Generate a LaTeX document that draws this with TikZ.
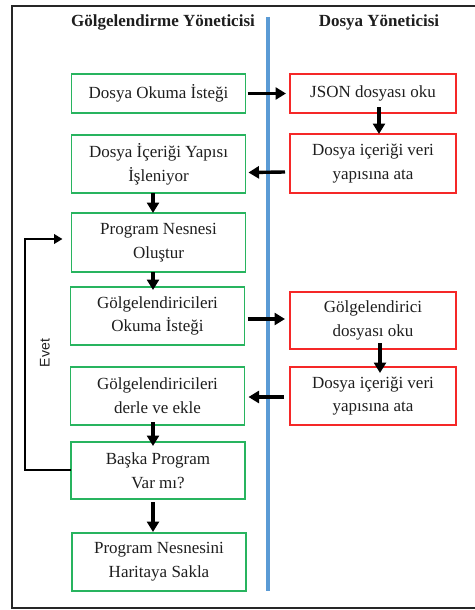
\documentclass[tikz,border=0pt]{standalone}
\usepackage{fontspec}
\setmainfont{Liberation Serif}
\newfontfamily\evetfont{Liberation Sans}
\usetikzlibrary{arrows.meta}
\definecolor{boxgreen}{RGB}{40,180,95}
\definecolor{boxred}{RGB}{245,40,40}
\definecolor{laneblue}{RGB}{91,155,213}
\definecolor{txt}{RGB}{30,30,30}
\begin{document}
\begin{tikzpicture}[x=1pt,y=-1pt,
  every node/.style={inner sep=0pt,outer sep=0pt},
  gbox/.style={draw=boxgreen,line width=1.4pt,minimum width=174pt,align=center,
    font=\fontsize{17}{23.7}\selectfont,text=txt},
  rbox/.style={draw=boxred,line width=1.4pt,minimum width=166pt,align=center,
    font=\fontsize{17}{23.7}\selectfont,text=txt},
  head/.style={font=\fontsize{17}{20}\selectfont\bfseries,text=txt},
  flow/.style={line width=3.4pt,-{Triangle[length=10.5pt,width=12pt]}},
  loop/.style={line width=2.4pt,-{Triangle[length=8.5pt,width=9.5pt]}}]
\useasboundingbox (0,0) rectangle (474,610);
% outer frame (its right edge lies past the page)
\draw[line width=2pt,black!85] (11.5,6) rectangle (490,607.5);
% lane divider
\draw[laneblue,line width=3.2pt] (268,17) -- (268,591);
% lane titles
\node[head] (h1) at (163,22) {Gölgelendirme Yöneticisi};
\node[head] (h2) at (379,22) {Dosya Yöneticisi};
% left lane
\node[gbox,minimum height=39pt] (g1) at (158.5,93.5) {Dosya Okuma İsteği};
\node[gbox,minimum height=58pt] (g2) at (158.5,164) {Dosya İçeriği Yapısı\\İşleniyor};
\node[gbox,minimum height=59pt] (g3) at (158.5,242.5) {Program Nesnesi\\Oluştur};
\node[gbox,minimum height=58pt] (g4) at (157.5,316) {Gölgelendiricileri\\Okuma İsteği};
\node[gbox,minimum height=58pt] (g5) at (157.5,396) {Gölgelendiricileri\\derle ve ekle};
\node[gbox,minimum height=57pt] (g6) at (158,470.5) {Başka Program\\Var mı?};
\node[gbox,minimum height=58pt] (g7) at (159,562) {Program Nesnesini\\Haritaya Sakla};
% right lane
\node[rbox,minimum height=39pt] (r1) at (373,93.5) {JSON dosyası oku};
\node[rbox,minimum height=59pt] (r2) at (373,163.5) {Dosya içeriği veri\\yapısına ata};
\node[rbox,minimum height=57pt] (r3) at (373,320.5) {Gölgelendirici\\dosyası oku};
\node[rbox,minimum height=58pt] (r4) at (373,396) {Dosya içeriği veri\\yapısına ata};
% connectors (yshift is measured upwards)
\draw[flow] ([xshift=2pt]g1.east) -- ([xshift=-4pt]r1.west);
\draw[flow] ([xshift=6pt,yshift=6pt]r1.south) -- ([xshift=6pt]r2.north);
\draw[flow] ([xshift=-5pt,yshift=-8.5pt]r2.west) -- ([xshift=3pt,yshift=-8.5pt]g2.east);
\draw[flow] ([xshift=-5.5pt]g2.south) -- ([xshift=-5.5pt]g3.north);
\draw[flow] ([xshift=-5.5pt]g3.south) -- ([xshift=-4.5pt,yshift=-3pt]g4.north);
\draw[flow] ([xshift=3pt,yshift=-3pt]g4.east) -- ([xshift=-5pt,yshift=1.5pt]r3.west);
\draw[flow] ([xshift=7pt,yshift=6pt]r3.south) -- ([xshift=7pt,yshift=-6pt]r4.north);
\draw[flow] ([xshift=-6pt,yshift=-1pt]r4.west) -- ([xshift=4pt,yshift=-1pt]g5.east);
\draw[flow] ([xshift=-4.5pt,yshift=3pt]g5.south) -- ([xshift=-5pt,yshift=-4pt]g6.north);
\draw[flow] ([xshift=-5pt,yshift=-3pt]g6.south) -- ([xshift=-6pt,yshift=1pt]g7.north);
% repeat loop
\coordinate (lb) at (25,470);
\coordinate (lt) at (25,239);
\draw[loop] (g6.west |- lb) -- (lb) -- (lt) -- ([xshift=-9pt]g3.west |- lt);
\node[font=\evetfont\fontsize{14}{16}\selectfont,text=txt,rotate=90] (evet) at (45,353) {Evet};
\end{tikzpicture}
\end{document}
